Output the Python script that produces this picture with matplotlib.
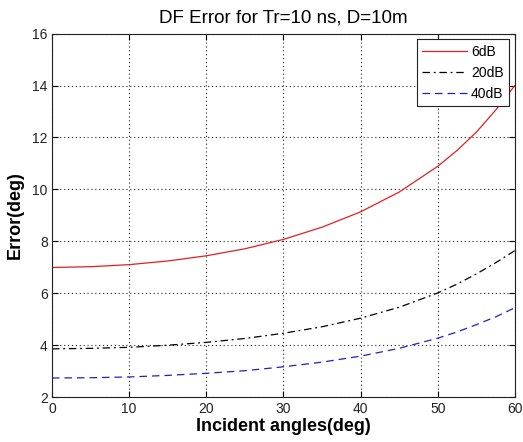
import matplotlib
matplotlib.use("Agg")
import matplotlib.pyplot as plt

angles = [0, 5, 10, 15, 20, 25, 30, 35, 40, 45, 50, 52.5, 55, 57.5, 60]
err_6db = [7.00, 7.03, 7.11, 7.25, 7.45, 7.72, 8.08, 8.55, 9.14, 9.90, 10.89, 11.50, 12.2, 13.05, 14.0]
err_20db = [3.87, 3.89, 3.93, 4.01, 4.12, 4.27, 4.47, 4.72, 5.05, 5.47, 6.02, 6.36, 6.75, 7.18, 7.65]
err_40db = [2.75, 2.76, 2.79, 2.85, 2.93, 3.03, 3.18, 3.36, 3.59, 3.89, 4.28, 4.52, 4.80, 5.10, 5.45]
labels = ["6dB", "20dB", "40dB"]
xticks = [0, 10, 20, 30, 40, 50, 60]
yticks = [2, 4, 6, 8, 10, 12, 14, 16]

plt.rcParams['font.family'] = ['Liberation Sans', 'DejaVu Sans']

fig = plt.figure(figsize=(5.23, 4.42), dpi=100)
ax = fig.add_axes([0.0994, 0.1007, 0.885, 0.8235])

ax.plot(angles, err_6db, color='#e02020', linestyle='-', linewidth=0.9, label=labels[0])
ax.plot(angles, err_20db, color='black', linestyle='-.', linewidth=0.9, label=labels[1], dashes=[6, 3, 1.5, 3])
ax.plot(angles, err_40db, color='#2020c8', linestyle='--', linewidth=0.9, label=labels[2], dashes=[6, 4])

ax.set_xlim(0, 60)
ax.set_ylim(2, 16)
ax.set_xticks(xticks)
ax.set_yticks(yticks)
ax.tick_params(direction='in', top=True, right=True, labelsize=10, length=4, width=0.8, pad=3,
               labelcolor='#222222')
ax.grid(True, linestyle=(0, (1, 2.5)), color='#222222', linewidth=0.8)
for s in ax.spines.values():
    s.set_linewidth(0.8)
    s.set_color('#222222')

ax.set_title("DF Error for Tr=10 ns, D=10m", fontsize=13.5, pad=8)
ax.set_xlabel("Incident angles(deg)", fontsize=13, fontweight='bold', labelpad=2)
ax.set_ylabel("Error(deg)", fontsize=13, fontweight='bold', labelpad=6)

leg = ax.legend(loc='upper right', fontsize=10, fancybox=False, edgecolor='#222222',
                framealpha=1, handlelength=3.2, borderpad=0.4, labelspacing=0.5,
                handletextpad=0.3, borderaxespad=0.4)
leg.get_frame().set_linewidth(0.8)

fig.savefig("out.png", dpi=100)
